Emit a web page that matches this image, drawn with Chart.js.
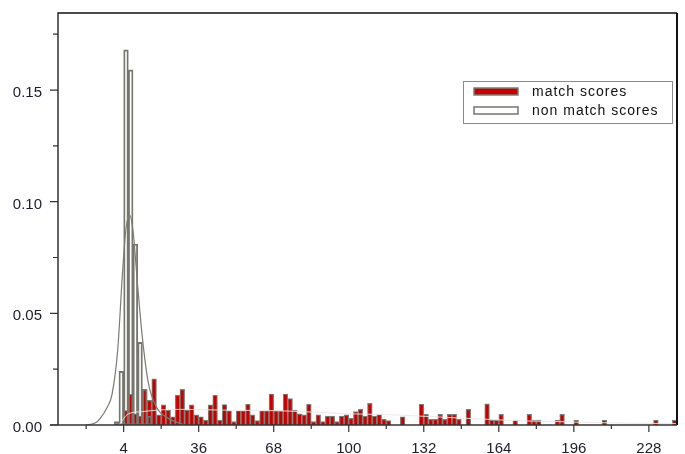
<!DOCTYPE html>
<html>
<head>
<meta charset="utf-8">
<script src="https://cdn.jsdelivr.net/npm/chart.js@4.4.1/dist/chart.umd.min.js"></script>
<style>
  html, body { margin: 0; padding: 0; background: #fff; }
  canvas { display: block; }
</style>
</head>
<body>
<canvas id="scoreChart" width="685" height="454"></canvas>
<script>
// Histogram bins are 2 units wide, the first bin starts at 0
const binWidth = 2;
const firstBin = 0;

// Match score histogram (one value per bin: 0-2, 2-4, 4-6, ...)
const matchScores = [
  0, 0, 0.0065, 0.0137, 0.005, 0.004, 0.0158, 0.011, 0.0207, 0.0045,
  0.009, 0.0067, 0.0037, 0.0134, 0.016, 0.0067, 0.009, 0.0045, 0.0037, 0.0022,
  0.009, 0.0134, 0.0022, 0.0092, 0.0064, 0.0015, 0.0064, 0.0064, 0.0093, 0.0045,
  0.002, 0.0064, 0.0064, 0.0139, 0.0064, 0.0064, 0.0139, 0.0118, 0.0066, 0.005,
  0.0045, 0.0093, 0.0015, 0.0045, 0.0015, 0.004, 0.004, 0.0015, 0.004, 0.0045,
  0.003, 0.006, 0.007, 0.004, 0.0097, 0.004, 0.0048, 0.0025, 0.002, 0,
  0, 0.0037, 0, 0, 0, 0.0093, 0.0048, 0.0025, 0.0025, 0.0048,
  0.0025, 0.0048, 0.0048, 0.0025, 0, 0.007, 0, 0, 0, 0.0095,
  0.0022, 0.0022, 0.0048, 0, 0, 0.0022, 0, 0, 0.0048, 0.0022,
  0.0022, 0, 0, 0, 0.0022, 0.0048, 0, 0, 0.0022, 0,
  0, 0, 0, 0, 0.0022, 0, 0, 0, 0, 0,
  0, 0, 0, 0, 0, 0.0022, 0, 0, 0, 0.0022
];

// Non match score histogram (bins 0-2 ... 14-16)
const nonMatchScores = [0.0015, 0.024, 0.168, 0.159, 0.081, 0.037, 0.016, 0.004];

// Smoothed density of the non match scores
const nonMatchCurveX = [-12, -8, -6, -3, -1, 1.5, 3.5, 5, 6.5, 8, 10, 12, 14.5, 18, 23, 30];
const nonMatchCurveY = [0, 0.001, 0.003, 0.008, 0.0135, 0.034, 0.068, 0.088, 0.094, 0.087, 0.062, 0.039, 0.019, 0.008, 0.003, 0];

// Smoothed density of the match scores
const matchCurveX = [2, 6, 12, 20, 30, 40, 50, 60, 70, 80, 90, 100, 110, 120, 130, 140, 150, 160, 170, 180, 190, 200, 210, 220, 230, 240];
const matchCurveY = [0, 0.005, 0.006, 0.0068, 0.007, 0.0068, 0.0066, 0.0065, 0.0064, 0.006, 0.0055, 0.005, 0.0048, 0.0045, 0.004, 0.0035, 0.003, 0.0025, 0.002, 0.0017, 0.0015, 0.0012, 0.001, 0.0008, 0.0007, 0.0006];

// Axis ticks
const xTickLabels = [4, 36, 68, 100, 132, 164, 196, 228];
const xMinorTicks = [-12, 20, 52, 84, 116, 148, 180, 212];
const yTickLabels = [0, 0.05, 0.10, 0.15];
const yMinorTicks = [0.025, 0.075, 0.125, 0.175];

const labels = ['match scores', 'non match scores'];

const tickFont = { family: '"Liberation Sans", Arial, sans-serif', size: 15 };
const textColor = '#1d1d2b';

function toBins(values) {
    return values.map((v, i) => ({ x: firstBin + i * binWidth + binWidth / 2, y: v }));
}

function toPoints(xs, ys) {
    return xs.map((x, i) => ({ x: x, y: ys[i] }));
}

// Keep the plot area where it is, whatever the labels need
function fixScale(scale, size) {
    if (scale.isHorizontal()) scale.height = size;
    else scale.width = size;
    scale.paddingTop = 0;
    scale.paddingBottom = 0;
    scale.paddingLeft = 0;
    scale.paddingRight = 0;
}

// Frame round the plot area plus the tick marks
const framePlugin = {
    id: 'frame',
    afterDatasetsDraw(chart) {
        const { ctx, chartArea: a, scales } = chart;
        ctx.save();
        ctx.strokeStyle = '#111';
        ctx.lineWidth = 1.3;
        ctx.beginPath();
        ctx.moveTo(a.left, a.bottom);
        ctx.lineTo(a.left, a.top);
        ctx.lineTo(a.right, a.top);
        ctx.stroke();
        ctx.lineWidth = 2;
        ctx.beginPath();
        ctx.moveTo(a.right, a.top);
        ctx.lineTo(a.right, a.bottom);
        ctx.stroke();

        ctx.strokeStyle = '#333';
        ctx.lineWidth = 1.5;
        ctx.beginPath();
        ctx.moveTo(a.left - 8, a.bottom);
        ctx.lineTo(a.right, a.bottom);
        ctx.stroke();

        ctx.lineWidth = 1.2;
        ctx.beginPath();
        yTickLabels.concat(yMinorTicks).forEach(v => {
            const py = scales.y.getPixelForValue(v);
            const len = yTickLabels.includes(v) ? 8 : 5;
            ctx.moveTo(a.left - len, py);
            ctx.lineTo(a.left, py);
        });
        xTickLabels.concat(xMinorTicks).forEach(v => {
            const px = scales.x.getPixelForValue(v);
            const len = xTickLabels.includes(v) ? 7 : 4;
            ctx.moveTo(px, a.bottom);
            ctx.lineTo(px, a.bottom + len);
        });
        ctx.stroke();
        ctx.restore();
    }
};

// Boxed legend inside the plot area, top right
const boxLegendPlugin = {
    id: 'boxLegend',
    afterDraw(chart) {
        const { ctx, chartArea: a } = chart;
        const boxW = 209, boxH = 42;
        const left = a.right - 5 - boxW;
        const top = a.top + 68;
        ctx.save();
        ctx.fillStyle = '#fff';
        ctx.fillRect(left, top, boxW, boxH);
        ctx.strokeStyle = '#8a8a8a';
        ctx.lineWidth = 1;
        ctx.strokeRect(left + 0.5, top + 0.5, boxW, boxH);

        const items = chart.data.datasets
            .filter(d => d.inLegend)
            .sort((p, q) => labels.indexOf(p.label) - labels.indexOf(q.label));
        items.forEach((d, i) => {
            const sy = top + 7 + i * 19;
            ctx.fillStyle = '#fff';
            ctx.fillRect(left + 11, sy, 44, 7);
            ctx.fillStyle = d.backgroundColor;
            ctx.fillRect(left + 11, sy, 44, 7);
            ctx.strokeStyle = d.borderColor;
            ctx.lineWidth = 1.5;
            ctx.strokeRect(left + 11, sy, 44, 7);

            ctx.fillStyle = '#111';
            ctx.font = '14px "Liberation Sans", Arial, sans-serif';
            ctx.letterSpacing = '1px';
            ctx.textBaseline = 'middle';
            ctx.textAlign = 'left';
            ctx.fillText(d.label, left + 69, top + 11.5 + i * 19);
        });
        ctx.restore();
    }
};

const ctx = document.getElementById('scoreChart').getContext('2d');

new Chart(ctx, {
    data: {
        datasets: [
            {
                type: 'line',
                label: 'non match density',
                data: toPoints(nonMatchCurveX, nonMatchCurveY),
                borderColor: '#7c7c74',
                borderWidth: 1.2,
                pointRadius: 0,
                cubicInterpolationMode: 'monotone',
                fill: false,
                order: 0
            },
            {
                type: 'line',
                label: 'match density',
                data: toPoints(matchCurveX, matchCurveY),
                borderColor: 'rgba(238, 228, 228, 0.9)',
                borderWidth: 1,
                pointRadius: 0,
                cubicInterpolationMode: 'monotone',
                fill: false,
                order: 1
            },
            {
                type: 'bar',
                label: labels[1],
                inLegend: true,
                data: toBins(nonMatchScores),
                backgroundColor: 'rgba(255, 255, 255, 0)',
                borderColor: '#76766e',
                borderWidth: 1.2,
                borderSkipped: false,
                grouped: false,
                barPercentage: 1,
                categoryPercentage: 1,
                order: 2
            },
            {
                type: 'bar',
                label: labels[0],
                inLegend: true,
                data: toBins(matchScores),
                backgroundColor: '#c40000',
                borderColor: '#7e7e77',
                borderWidth: 1.2,
                grouped: false,
                barPercentage: 1,
                categoryPercentage: 1,
                order: 3
            }
        ]
    },
    options: {
        responsive: false,
        animation: false,
        layout: {
            padding: { top: 13, right: 8, left: 0, bottom: 0 }
        },
        plugins: {
            legend: { display: false },
            tooltip: { enabled: false }
        },
        scales: {
            x: {
                type: 'linear',
                offset: false,
                min: -24,
                max: 240,
                afterFit: scale => fixScale(scale, 29),
                afterBuildTicks: scale => {
                    scale.ticks = xTickLabels.map(v => ({ value: v }));
                },
                grid: { display: false, drawTicks: false, offset: false },
                border: { display: false },
                ticks: {
                    padding: 15,
                    autoSkip: false,
                    maxRotation: 0,
                    color: textColor,
                    font: tickFont,
                    callback: value => String(value)
                }
            },
            y: {
                type: 'linear',
                min: 0,
                max: 0.1845,
                afterFit: scale => fixScale(scale, 58),
                afterBuildTicks: scale => {
                    scale.ticks = yTickLabels.map(v => ({ value: v }));
                },
                grid: { display: false, drawTicks: false },
                border: { display: false },
                ticks: {
                    padding: 16,
                    labelOffset: 3,
                    color: textColor,
                    font: tickFont,
                    callback: value => value.toFixed(2)
                }
            }
        }
    },
    plugins: [framePlugin, boxLegendPlugin]
});
</script>
</body>
</html>
